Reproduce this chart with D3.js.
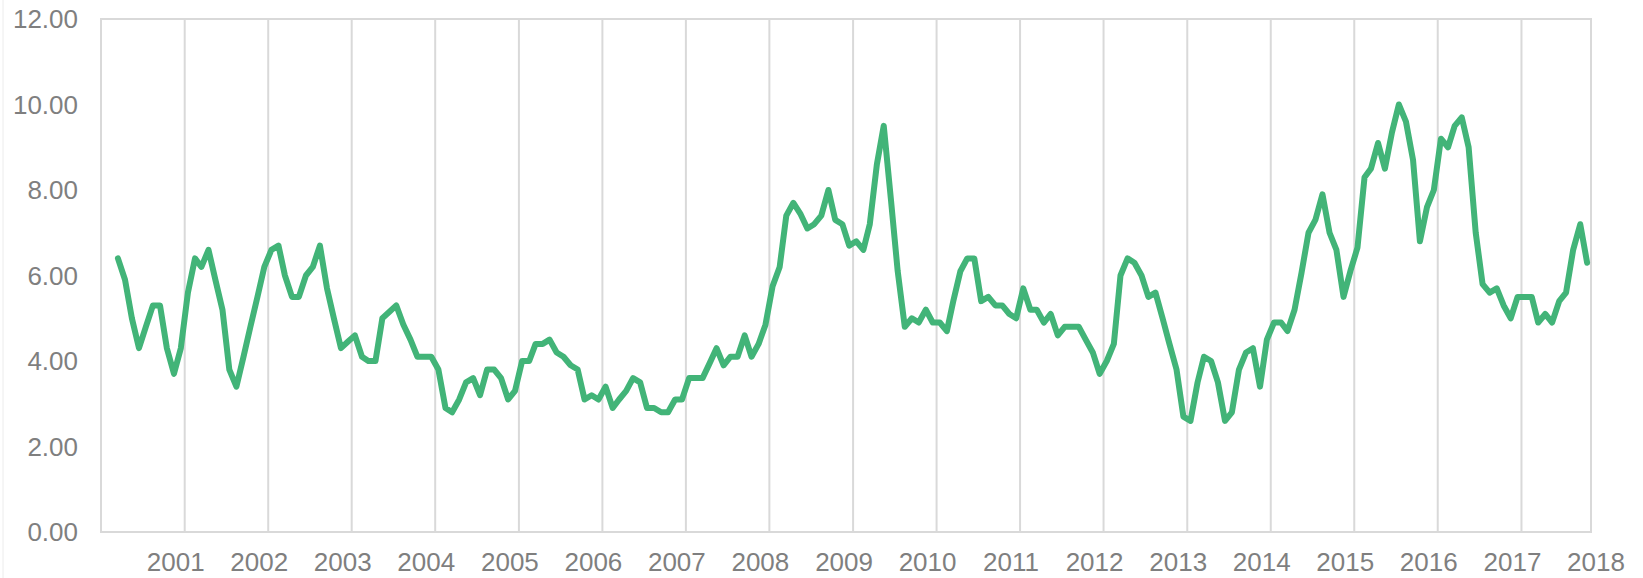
<!DOCTYPE html>
<html>
<head>
<meta charset="utf-8">
<script src="https://cdn.jsdelivr.net/npm/d3@7"></script>
<style>
  body { margin: 0; background: #ffffff; }
  text { font-family: "Liberation Sans", Arial, sans-serif; fill: #7f7f7f; }
</style>
</head>
<body>
<div id="chart"></div>
<script>
// monthly series, first value is March 2000
const startYear = 2000, startMonth = 2;
const values = [
  6.4, 5.9, 5.0, 4.3, 4.8, 5.3, 5.3, 4.3, 3.7, 4.3,
  5.6, 6.4, 6.2, 6.6, 5.9, 5.2, 3.8, 3.4, 4.1, 4.8,
  5.5, 6.2, 6.6, 6.7, 6.0, 5.5, 5.5, 6.0, 6.2, 6.7,
  5.7, 5.0, 4.3, 4.45, 4.6, 4.1, 4.0, 4.0, 5.0, 5.15,
  5.3, 4.85, 4.5, 4.1, 4.1, 4.1, 3.8, 2.9, 2.8, 3.1,
  3.5, 3.6, 3.2, 3.8, 3.8, 3.6, 3.1, 3.3, 4.0, 4.0,
  4.4, 4.4, 4.5, 4.2, 4.1, 3.9, 3.8, 3.1, 3.2, 3.1,
  3.4, 2.9, 3.1, 3.3, 3.6, 3.5, 2.9, 2.9, 2.8, 2.8,
  3.1, 3.1, 3.6, 3.6, 3.6, 3.95, 4.3, 3.9, 4.1, 4.1,
  4.6, 4.1, 4.4, 4.85, 5.75, 6.2, 7.4, 7.7, 7.45, 7.1,
  7.2, 7.4, 8.0, 7.3, 7.2, 6.7, 6.8, 6.6, 7.2, 8.6,
  9.5, 7.8, 6.1, 4.8, 5.0, 4.9, 5.2, 4.9, 4.9, 4.7,
  5.4, 6.1, 6.4, 6.4, 5.4, 5.5, 5.3, 5.3, 5.1, 5.0,
  5.7, 5.2, 5.2, 4.9, 5.1, 4.6, 4.8, 4.8, 4.8, 4.5,
  4.2, 3.7, 4.0, 4.4, 6.0, 6.4, 6.3, 6.0, 5.5, 5.6,
  5.0, 4.4, 3.8, 2.7, 2.6, 3.5, 4.1, 4.0, 3.5, 2.6,
  2.8, 3.8, 4.2, 4.3, 3.4, 4.5, 4.9, 4.9, 4.7, 5.2,
  6.05, 7.0, 7.3, 7.9, 7.0, 6.6, 5.5, 6.1, 6.65, 8.3,
  8.5, 9.1, 8.5, 9.35, 10.0, 9.6, 8.7, 6.8, 7.6, 8.0,
  9.2, 9.0, 9.5, 9.7, 9.0, 7.0, 5.8, 5.6, 5.7, 5.3,
  5.0, 5.5, 5.5, 5.5, 4.9, 5.1, 4.9, 5.4, 5.6, 6.6,
  7.2, 6.3
];
const yearTicks = [2001, 2002, 2003, 2004, 2005, 2006, 2007, 2008, 2009,
                   2010, 2011, 2012, 2013, 2014, 2015, 2016, 2017, 2018];
const yTicks = [0, 2, 4, 6, 8, 10, 12];

const width = 1643, height = 578;
const margin = {top: 19, right: 52, bottom: 46, left: 101};

let svg = d3.select("#chart")
            .append("svg")
            .attr("width", width)
            .attr("height", height);

let data = values.map((v, i) => ({
  date: new Date(startYear, startMonth + i, 15),
  value: v
}));

let x = d3.scaleTime()
          .domain([new Date(2000, 0, 1), new Date(2017, 10, 1)])
          .range([margin.left, width - margin.right]);

let y = d3.scaleLinear()
          .domain([0, 12])
          .range([height - margin.bottom, margin.top]);

// faint chart area edge on the left
svg.append("line")
   .attr("x1", 3).attr("x2", 3)
   .attr("y1", 0).attr("y2", height)
   .style("stroke", "#ececec")
   .style("stroke-width", 1);

// vertical year gridlines
let gridYears = yearTicks.filter(yr => x(new Date(yr, 0, 1)) < width - margin.right);

svg.selectAll("line.grid")
   .data(gridYears)
   .enter()
   .append("line")
   .attr("class", "grid")
   .attr("x1", d => x(new Date(d, 0, 1)))
   .attr("x2", d => x(new Date(d, 0, 1)))
   .attr("y1", y(12))
   .attr("y2", y(0))
   .style("stroke", "#d9d9d9")
   .style("stroke-width", 2);

// plot frame
svg.append("rect")
   .attr("x", x.range()[0])
   .attr("y", y(12))
   .attr("width", x.range()[1] - x.range()[0])
   .attr("height", y(0) - y(12))
   .style("fill", "none")
   .style("stroke", "#d9d9d9")
   .style("stroke-width", 2);

// y axis labels
svg.selectAll("text.yLabel")
   .data(yTicks)
   .enter()
   .append("text")
   .attr("class", "yLabel")
   .attr("x", 78)
   .attr("y", d => y(d))
   .attr("dy", "0.35em")
   .style("text-anchor", "end")
   .style("font-size", "26px")
   .text(d => d3.format(".2f")(d));

// x axis year labels, sitting just left of their gridline
svg.selectAll("text.xLabel")
   .data(yearTicks)
   .enter()
   .append("text")
   .attr("class", "xLabel")
   .attr("x", d => x(new Date(d, 0, 1)) - 9)
   .attr("y", 571)
   .style("text-anchor", "middle")
   .style("font-size", "26px")
   .text(d => d);

let line = d3.line()
             .x(d => x(d.date))
             .y(d => y(d.value));

svg.append("path")
   .datum(data)
   .attr("d", line)
   .style("fill", "none")
   .style("stroke", "#42b478")
   .style("stroke-width", 6)
   .style("stroke-linejoin", "round")
   .style("stroke-linecap", "round");
</script>
</body>
</html>
